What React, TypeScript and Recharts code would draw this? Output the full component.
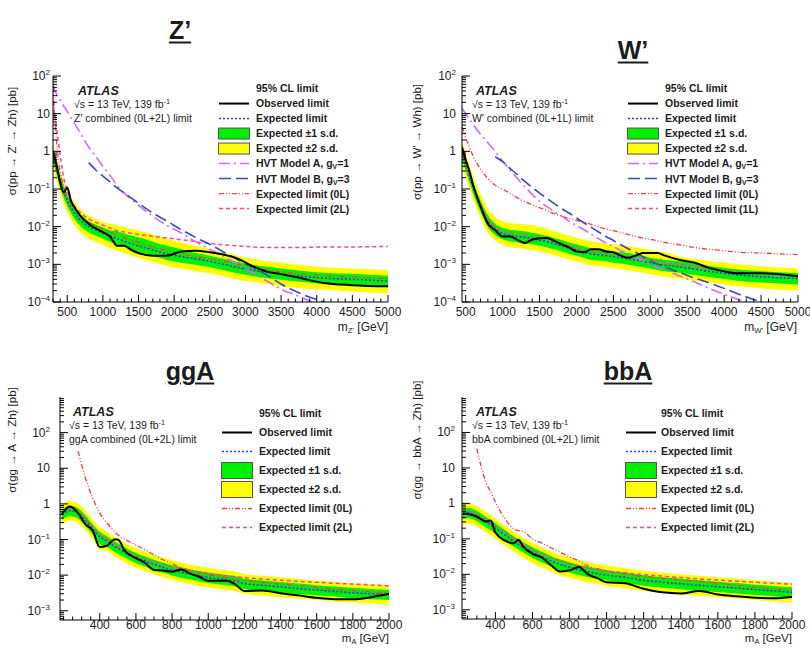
import React from 'react';
import { ComposedChart, Area, Line, XAxis, YAxis } from 'recharts';

const FONT = "'Liberation Sans', Arial, Helvetica, sans-serif";
const INK = '#1c1c1c';

// Z' -> Zh
const zpMass = [300, 350, 400, 450, 500, 550, 600, 700, 800, 900, 1000, 1100, 1200, 1300, 1400, 1500, 1700, 1900, 2100, 2300, 2500, 2700, 2900, 3100, 3300, 3500, 3800, 4100, 4500, 5000];
const zpObs = [1.0, 0.45, 0.15, 0.08, 0.11, 0.05, 0.033, 0.018, 0.012, 0.009, 0.0072, 0.0055, 0.0031, 0.0031, 0.0024, 0.002, 0.0017, 0.0017, 0.0022, 0.0023, 0.0021, 0.0018, 0.0014, 0.0009, 0.00064, 0.00055, 0.00042, 0.00032, 0.00028, 0.00026];
const zpExp = [0.75, 0.35, 0.16, 0.085, 0.05, 0.033, 0.023, 0.014, 0.01, 0.0082, 0.0068, 0.0057, 0.0048, 0.0041, 0.0035, 0.0031, 0.0024, 0.0019, 0.0016, 0.0014, 0.0012, 0.001, 0.00082, 0.0007, 0.00062, 0.00055, 0.00048, 0.00043, 0.0004, 0.00036];
const zpUp1 = [1.05, 0.49, 0.22, 0.12, 0.07, 0.046, 0.032, 0.02, 0.014, 0.0115, 0.0095, 0.008, 0.0075, 0.0066, 0.0058, 0.0052, 0.004, 0.0031, 0.0025, 0.002, 0.0017, 0.0014, 0.00115, 0.00098, 0.00087, 0.00077, 0.00067, 0.0006, 0.00056, 0.0005];
const zpDn1 = [0.52, 0.245, 0.11, 0.06, 0.035, 0.023, 0.016, 0.0098, 0.007, 0.0057, 0.0048, 0.004, 0.0034, 0.0029, 0.0025, 0.0022, 0.0017, 0.0013, 0.0011, 0.00098, 0.00084, 0.0007, 0.00057, 0.00049, 0.00043, 0.00039, 0.00034, 0.0003, 0.00028, 0.00025];
const zpUp2 = [1.45, 0.68, 0.31, 0.165, 0.098, 0.064, 0.045, 0.027, 0.0195, 0.016, 0.0133, 0.012, 0.011, 0.0098, 0.0088, 0.008, 0.0062, 0.0048, 0.0038, 0.0031, 0.0025, 0.0021, 0.0017, 0.0014, 0.0012, 0.0011, 0.00094, 0.00084, 0.00078, 0.0007];
const zpDn2 = [0.36, 0.17, 0.077, 0.041, 0.024, 0.016, 0.011, 0.0067, 0.0048, 0.0039, 0.0033, 0.0027, 0.0023, 0.002, 0.0017, 0.0015, 0.00115, 0.0009, 0.00077, 0.00067, 0.00058, 0.00048, 0.00039, 0.00034, 0.0003, 0.00026, 0.00023, 0.00021, 0.00019, 0.00017];
const zpExp0L = [50, 1.8, 0.28, 0.12, 0.065, 0.042, 0.03, 0.018, 0.013, 0.0105, 0.0087, 0.0072, 0.006, 0.0051, 0.0044, 0.0038, 0.0029, 0.0023, 0.0019, 0.0016, 0.0014, 0.0012, 0.001, 0.00082, 0.00072, 0.00063, 0.00055, 0.0005, 0.00046, 0.00042];
const zpExp2L = [20, 4, 0.8, 0.2, 0.09, 0.05, 0.035, 0.022, 0.016, 0.013, 0.011, 0.0092, 0.0078, 0.0072, 0.0066, 0.0062, 0.0056, 0.005, 0.0045, 0.004, 0.0036, 0.0033, 0.0031, 0.0029, 0.0028, 0.0028, 0.0028, 0.0029, 0.0029, 0.003];
const zpHvtA = [55, 33, 23, 16, 11.5, 8, 5.6, 2.7, 1.3, 0.72, 0.4, 0.23, 0.123, 0.078, 0.053, 0.037, 0.019, 0.0107, 0.0068, 0.004, 0.0025, 0.0016, 0.001, 0.00059, 0.00036, 0.00022, 0.00013, 0.00007, null, null];
const zpHvtB = [null, null, null, null, null, null, null, null, 0.5, 0.32, 0.22, 0.155, 0.107, 0.078, 0.057, 0.042, 0.023, 0.014, 0.0083, 0.0052, 0.0034, 0.0021, 0.0013, 0.00083, 0.00052, 0.0003, 0.00016, 0.0001, 0.00005, null];

// W' -> Wh
const wpMass = [450, 500, 550, 600, 700, 800, 900, 1000, 1100, 1200, 1300, 1400, 1500, 1600, 1700, 1800, 1900, 2000, 2100, 2200, 2300, 2400, 2500, 2600, 2700, 2800, 2900, 3000, 3100, 3200, 3400, 3600, 3800, 4000, 4200, 4500, 5000];
const wpObs = [1.3, 0.6, 0.3, 0.13, 0.035, 0.012, 0.008, 0.0055, 0.0055, 0.0045, 0.0037, 0.0045, 0.0049, 0.005, 0.0042, 0.0034, 0.0028, 0.0022, 0.0021, 0.0025, 0.0025, 0.0022, 0.0021, 0.0017, 0.0015, 0.0017, 0.002, 0.002, 0.002, 0.0017, 0.0013, 0.0011, 0.0008, 0.00065, 0.00058, 0.00058, 0.00048];
const wpExp = [0.8, 0.45, 0.22, 0.11, 0.035, 0.014, 0.0085, 0.0065, 0.0058, 0.0055, 0.0052, 0.0048, 0.0044, 0.004, 0.0035, 0.0031, 0.0027, 0.0024, 0.0021, 0.0019, 0.0018, 0.0017, 0.0016, 0.0015, 0.0014, 0.0013, 0.0012, 0.0011, 0.001, 0.00095, 0.00085, 0.00075, 0.00065, 0.00058, 0.00052, 0.00047, 0.00042];
const wpUp1 = [1.15, 0.64, 0.31, 0.155, 0.05, 0.02, 0.012, 0.0093, 0.0083, 0.0079, 0.0075, 0.0069, 0.0063, 0.0057, 0.005, 0.0044, 0.0038, 0.0034, 0.003, 0.0027, 0.0025, 0.0024, 0.0022, 0.0021, 0.002, 0.0018, 0.0017, 0.0015, 0.0014, 0.0013, 0.0012, 0.00105, 0.0009, 0.00081, 0.00073, 0.00066, 0.00059];
const wpDn1 = [0.56, 0.31, 0.15, 0.077, 0.025, 0.0098, 0.006, 0.0046, 0.0041, 0.0038, 0.0036, 0.0034, 0.0031, 0.0028, 0.0025, 0.0022, 0.0019, 0.0017, 0.0015, 0.0013, 0.00126, 0.0012, 0.0011, 0.00105, 0.00098, 0.00091, 0.00084, 0.00077, 0.0007, 0.00066, 0.0006, 0.00052, 0.00046, 0.00041, 0.00036, 0.00033, 0.00029];
const wpUp2 = [1.7, 0.95, 0.46, 0.23, 0.075, 0.03, 0.018, 0.014, 0.0125, 0.012, 0.0115, 0.011, 0.01, 0.0088, 0.0075, 0.0066, 0.0058, 0.0051, 0.0045, 0.0041, 0.0038, 0.0036, 0.0034, 0.0032, 0.003, 0.0028, 0.0026, 0.0024, 0.0022, 0.0021, 0.0016, 0.0014, 0.0012, 0.0011, 0.001, 0.00088, 0.00078];
const wpDn2 = [0.4, 0.22, 0.11, 0.055, 0.0175, 0.007, 0.0043, 0.0033, 0.0029, 0.0027, 0.0026, 0.0024, 0.0022, 0.002, 0.00175, 0.00155, 0.00135, 0.0012, 0.00105, 0.00095, 0.0009, 0.00085, 0.0008, 0.00075, 0.0007, 0.00065, 0.0006, 0.00055, 0.0005, 0.00047, 0.00042, 0.00037, 0.00033, 0.00029, 0.00026, 0.00023, 0.0002];
const wpExp0L = [4.5, 2.3, 1.3, 0.75, 0.34, 0.19, 0.125, 0.098, 0.078, 0.058, 0.046, 0.038, 0.032, 0.027, 0.022, 0.019, 0.0165, 0.0148, 0.013, 0.0115, 0.0098, 0.0087, 0.0078, 0.007, 0.0062, 0.0055, 0.005, 0.0046, 0.0042, 0.0038, 0.0033, 0.0028, 0.0025, 0.0023, 0.0021, 0.002, 0.0018];
const wpExp1L = [0.9, 0.5, 0.25, 0.125, 0.04, 0.016, 0.0098, 0.0075, 0.0067, 0.0063, 0.006, 0.0055, 0.0051, 0.0046, 0.004, 0.0036, 0.0031, 0.0028, 0.0024, 0.0022, 0.0021, 0.002, 0.0019, 0.0017, 0.0016, 0.0015, 0.0014, 0.0013, 0.0012, 0.0011, 0.001, 0.00088, 0.00077, 0.00068, 0.00062, 0.00056, 0.0005];
const wpHvtA = [14, 9.9, 7.2, 5.2, 2.85, 1.7, 0.99, 0.55, 0.32, 0.19, 0.115, 0.072, 0.047, 0.034, 0.025, 0.019, 0.014, 0.0107, 0.0083, 0.0063, 0.0048, 0.0037, 0.003, 0.0023, 0.0019, 0.00155, 0.00125, 0.001, 0.00083, 0.0007, 0.00049, 0.00034, 0.00023, 0.00016, 0.000115, 0.00007, null];
const wpHvtB = [null, null, null, null, null, null, 0.72, 0.53, 0.355, 0.24, 0.16, 0.11, 0.078, 0.056, 0.041, 0.03, 0.023, 0.017, 0.0127, 0.0096, 0.0072, 0.0055, 0.0043, 0.0033, 0.0026, 0.0021, 0.0016, 0.00126, 0.001, 0.00085, 0.0006, 0.00043, 0.00032, 0.00023, 0.00016, 0.0001, 0.00004];

// gg -> A -> Zh
const ggMass = [190, 235, 280, 320, 360, 400, 440, 480, 500, 540, 600, 650, 700, 750, 800, 850, 900, 950, 1000, 1100, 1150, 1200, 1300, 1400, 1500, 1600, 1700, 1800, 1900, 2000];
const ggObs = [0.52, 0.84, 0.55, 0.27, 0.18, 0.062, 0.067, 0.1, 0.1, 0.047, 0.03, 0.022, 0.014, 0.0135, 0.0125, 0.0145, 0.011, 0.009, 0.0069, 0.007, 0.0055, 0.0036, 0.0037, 0.0031, 0.0027, 0.0023, 0.0021, 0.0021, 0.0024, 0.003];
const ggExp = [0.5, 0.65, 0.55, 0.35, 0.2, 0.12, 0.09, 0.065, 0.057, 0.044, 0.031, 0.025, 0.02, 0.0165, 0.014, 0.0122, 0.0107, 0.0095, 0.0086, 0.0074, 0.0068, 0.0058, 0.0052, 0.0047, 0.0042, 0.0038, 0.0035, 0.0032, 0.003, 0.0028];
const ggUp1 = [0.68, 0.89, 0.75, 0.48, 0.27, 0.165, 0.123, 0.089, 0.078, 0.06, 0.042, 0.034, 0.027, 0.0226, 0.019, 0.0167, 0.0147, 0.013, 0.0118, 0.0101, 0.0093, 0.0079, 0.0071, 0.0064, 0.0058, 0.0052, 0.0048, 0.0044, 0.0041, 0.0038];
const ggDn1 = [0.35, 0.455, 0.385, 0.245, 0.14, 0.075, 0.063, 0.0455, 0.04, 0.031, 0.0217, 0.0175, 0.014, 0.0116, 0.0098, 0.0085, 0.0075, 0.0067, 0.006, 0.0052, 0.0048, 0.0041, 0.0036, 0.0033, 0.0029, 0.0027, 0.0025, 0.0022, 0.0021, 0.002];
const ggUp2 = [0.93, 1.2, 1.02, 0.65, 0.37, 0.22, 0.166, 0.12, 0.105, 0.081, 0.057, 0.046, 0.037, 0.0305, 0.026, 0.0226, 0.0198, 0.0176, 0.0159, 0.0137, 0.0126, 0.0107, 0.0096, 0.0087, 0.0078, 0.007, 0.0065, 0.0059, 0.0056, 0.0052];
const ggDn2 = [0.26, 0.34, 0.29, 0.18, 0.104, 0.052, 0.047, 0.034, 0.03, 0.023, 0.016, 0.013, 0.0104, 0.0086, 0.0073, 0.0063, 0.0056, 0.0049, 0.0045, 0.0038, 0.0035, 0.003, 0.0027, 0.0024, 0.0022, 0.002, 0.0018, 0.0017, 0.0016, 0.0015];
const ggExp0L = [null, null, 30, 5.5, 1.5, 0.55, 0.29, 0.17, 0.135, 0.1, 0.07, 0.052, 0.037, 0.027, 0.021, 0.016, 0.0135, 0.0113, 0.0102, 0.0084, 0.0075, 0.0071, 0.0062, 0.0056, 0.005, 0.0045, 0.004, 0.0037, 0.0034, 0.003];
const ggExp2L = [0.6, 0.75, 0.62, 0.4, 0.23, 0.135, 0.1, 0.073, 0.064, 0.05, 0.036, 0.029, 0.024, 0.02, 0.017, 0.015, 0.0134, 0.0121, 0.011, 0.0096, 0.009, 0.0085, 0.0078, 0.0072, 0.0067, 0.0063, 0.0059, 0.0056, 0.0053, 0.005];

// bb -> A -> Zh
const bbMass = [225, 250, 300, 350, 375, 400, 450, 500, 525, 550, 600, 650, 700, 750, 800, 850, 900, 950, 1000, 1100, 1200, 1300, 1400, 1500, 1600, 1700, 1800, 1900, 2000];
const bbObs = [0.52, 0.5, 0.42, 0.31, 0.33, 0.15, 0.09, 0.075, 0.095, 0.06, 0.038, 0.03, 0.018, 0.012, 0.013, 0.016, 0.01, 0.0078, 0.006, 0.0056, 0.0039, 0.0031, 0.0029, 0.0034, 0.0027, 0.0024, 0.0022, 0.0021, 0.0023];
const bbExp = [0.5, 0.55, 0.45, 0.3, 0.25, 0.2, 0.13, 0.085, 0.07, 0.058, 0.042, 0.031, 0.024, 0.019, 0.016, 0.0135, 0.0118, 0.0105, 0.0095, 0.0082, 0.0068, 0.006, 0.0054, 0.0049, 0.0045, 0.0041, 0.0037, 0.0034, 0.0031];
const bbUp1 = [0.69, 0.76, 0.62, 0.41, 0.345, 0.275, 0.18, 0.117, 0.097, 0.08, 0.058, 0.043, 0.033, 0.026, 0.022, 0.0186, 0.0163, 0.0145, 0.0131, 0.0113, 0.0094, 0.0083, 0.0075, 0.0068, 0.0062, 0.0057, 0.0051, 0.0047, 0.0043];
const bbDn1 = [0.35, 0.385, 0.315, 0.21, 0.175, 0.14, 0.091, 0.06, 0.049, 0.041, 0.029, 0.022, 0.017, 0.0133, 0.0112, 0.0095, 0.0083, 0.0074, 0.0067, 0.0057, 0.0048, 0.0042, 0.0038, 0.0034, 0.0032, 0.0029, 0.0026, 0.0024, 0.0022];
const bbUp2 = [0.95, 1.0, 0.85, 0.56, 0.47, 0.37, 0.24, 0.16, 0.13, 0.108, 0.078, 0.058, 0.045, 0.035, 0.03, 0.025, 0.022, 0.0195, 0.0176, 0.0152, 0.0126, 0.0111, 0.01, 0.0091, 0.0083, 0.0076, 0.0068, 0.0063, 0.0057];
const bbDn2 = [0.25, 0.275, 0.225, 0.15, 0.125, 0.1, 0.065, 0.043, 0.035, 0.029, 0.021, 0.0155, 0.012, 0.0095, 0.008, 0.0068, 0.0059, 0.0053, 0.0048, 0.0041, 0.0034, 0.003, 0.0027, 0.0025, 0.0023, 0.0021, 0.0019, 0.0017, 0.0016];
const bbExp0L = [null, null, 35, 3.8, 2.1, 1.1, 0.38, 0.19, 0.17, 0.16, 0.1, 0.076, 0.056, 0.042, 0.031, 0.024, 0.017, 0.0145, 0.0123, 0.0102, 0.0087, 0.0078, 0.007, 0.0063, 0.0057, 0.0049, 0.0043, 0.0039, 0.0035];
const bbExp2L = [0.55, 0.6, 0.5, 0.34, 0.28, 0.22, 0.15, 0.1, 0.083, 0.07, 0.05, 0.038, 0.03, 0.024, 0.02, 0.017, 0.015, 0.0135, 0.0125, 0.011, 0.0098, 0.0089, 0.0081, 0.0074, 0.0069, 0.0064, 0.006, 0.0056, 0.0053];

// tick labels
const heavyMajor = [500, 1000, 1500, 2000, 2500, 3000, 3500, 4000, 4500, 5000];
const lightMajor = [400, 600, 800, 1000, 1200, 1400, 1600, 1800, 2000];
const heavyDecades = [1e-4, 1e-3, 1e-2, 1e-1, 1, 10, 100];
const lightDecades = [1e-3, 1e-2, 1e-1, 1, 10, 100];

const C = {
  yellow: '#ffff00',
  green: '#00f000',
  obs: '#000000',
  exp: '#2a35ff',
  hvtA: '#cf6cf6',
  hvtB: '#3a49c9',
  l0: '#ff3b3b',
  l2: '#ff3fa0',
};

type V = number | null;
type SeriesSet = {
  mass: number[]; obs: number[]; exp: number[];
  up1: number[]; dn1: number[]; up2: number[]; dn2: number[];
  l0: V[]; l2: V[]; hvtA?: V[]; hvtB?: V[];
};

function makeRows(s: SeriesSet) {
  return s.mass.map((m, i) => ({
    m,
    obs: s.obs[i],
    exp: s.exp[i],
    band1: [s.dn1[i], s.up1[i]],
    band2: [s.dn2[i], s.up2[i]],
    l0: s.l0[i],
    l2: s.l2[i],
    hvtA: s.hvtA ? s.hvtA[i] : null,
    hvtB: s.hvtB ? s.hvtB[i] : null,
  }));
}

function linearMinor(lo: number, hi: number, step: number, major: number[]) {
  const out: number[] = [];
  for (let v = Math.ceil(lo / step) * step; v <= hi; v += step) if (!major.includes(v)) out.push(v);
  return out;
}

function logMinor(lo: number, hi: number) {
  const out: number[] = [];
  for (let e = -5; e <= 3; e++) {
    for (let k = 2; k <= 9; k++) {
      const v = k * Math.pow(10, e);
      if (v >= lo && v <= hi) out.push(v);
    }
  }
  return out;
}

function decadeLabel(v: number, x: number, y: number) {
  const e = Math.round(Math.log10(v));
  const base = { x, y, textAnchor: 'end' as const, fontFamily: FONT, fontSize: 12, fill: INK };
  if (e === 0) return <text {...base}>1</text>;
  if (e === 1) return <text {...base}>10</text>;
  return (
    <text {...base}>
      10<tspan dy={-5} fontSize={8}>{e < 0 ? `\u2212${-e}` : e}</tspan>
    </text>
  );
}

type Box = { left: number; top: number; w: number; h: number };
type Plot = { l: number; t: number; r: number; b: number };

type PanelProps = {
  s: SeriesSet;
  box: Box;
  plot: Plot;
  xDomain: [number, number];
  xMajor: number[];
  xStep: number;
  yDomain: [number, number];
  yDecades: number[];
  yLabelRight: number;
  xLabelY: number;
};

function Panel({ s, box, plot, xDomain, xMajor, xStep, yDomain, yDecades, yLabelRight, xLabelY }: PanelProps) {
  const pl = plot.l - box.left;
  const pr = plot.r - box.left;
  const pt = plot.t - box.top;
  const pb = plot.b - box.top;
  const data = makeRows(s);
  const xTicks = [...xMajor, ...linearMinor(xDomain[0], xDomain[1], xStep, xMajor)].sort((a, b) => a - b);
  const yTicks = [...yDecades, ...logMinor(yDomain[0], yDomain[1])].sort((a, b) => a - b);
  const isMajorY = (v: number) => yDecades.some((d) => Math.abs(d - v) < d * 1e-6);
  const lab = yLabelRight - box.left;
  const xl = xLabelY - box.top + 4;

  const lineProps = { type: 'monotone' as const, dot: false, activeDot: false, isAnimationActive: false, xAxisId: 'b', yAxisId: 'l' };

  return (
    <div style={{ position: 'absolute', left: box.left, top: box.top }}>
      <ComposedChart width={box.w} height={box.h} data={data} margin={{ top: pt, right: box.w - pr, bottom: 0, left: 0 }}>
        <XAxis
          xAxisId="b" dataKey="m" type="number" domain={xDomain} allowDataOverflow ticks={xTicks} interval={0}
          height={box.h - pb} tickLine={false} axisLine={{ stroke: '#000' }}
          tick={(t: any) => {
            const major = xMajor.includes(t.payload.value);
            return (
              <g>
                <line x1={t.x} x2={t.x} y1={pb} y2={pb - (major ? 7 : 3.5)} stroke="#000" />
                {major && (
                  <text x={t.x} y={xl} textAnchor="middle" fontFamily={FONT} fontSize={12} fill={INK}>{t.payload.value}</text>
                )}
              </g>
            );
          }}
        />
        <XAxis
          xAxisId="t" orientation="top" dataKey="m" type="number" domain={xDomain} allowDataOverflow ticks={xTicks} interval={0}
          height={0} tickLine={false} axisLine={{ stroke: '#000' }}
          tick={(t: any) => {
            const major = xMajor.includes(t.payload.value);
            return <line x1={t.x} x2={t.x} y1={pt} y2={pt + (major ? 7 : 3.5)} stroke="#000" />;
          }}
        />
        <YAxis
          yAxisId="l" type="number" scale="log" domain={yDomain} allowDataOverflow ticks={yTicks} interval={0}
          width={pl} tickLine={false} axisLine={{ stroke: '#000' }}
          tick={(t: any) => {
            const major = isMajorY(t.payload.value);
            return (
              <g>
                <line x1={pl} x2={pl + (major ? 8 : 4)} y1={t.y} y2={t.y} stroke="#000" />
                {major && decadeLabel(t.payload.value, lab, t.y + 4)}
              </g>
            );
          }}
        />
        <YAxis
          yAxisId="r" orientation="right" type="number" scale="log" domain={yDomain} allowDataOverflow ticks={yTicks} interval={0}
          width={0} tickLine={false} axisLine={{ stroke: '#000' }}
          tick={(t: any) => {
            const major = isMajorY(t.payload.value);
            return <line x1={pr} x2={pr - (major ? 8 : 4)} y1={t.y} y2={t.y} stroke="#000" />;
          }}
        />
        <Area xAxisId="b" yAxisId="l" type="monotone" dataKey="band2" fill={C.yellow} fillOpacity={1} stroke="none" isAnimationActive={false} activeDot={false} />
        <Area xAxisId="b" yAxisId="l" type="monotone" dataKey="band1" fill={C.green} fillOpacity={1} stroke="none" isAnimationActive={false} activeDot={false} />
        <Line {...lineProps} dataKey="exp" stroke={C.exp} strokeWidth={1.6} strokeDasharray="2 2" />
        <Line {...lineProps} dataKey="l0" stroke={C.l0} strokeWidth={1.3} strokeDasharray="5 2 1 2 1 2" />
        <Line {...lineProps} dataKey="l2" stroke={C.l2} strokeWidth={1.5} strokeDasharray="4 3" />
        {s.hvtA && <Line {...lineProps} dataKey="hvtA" stroke={C.hvtA} strokeWidth={1.6} strokeDasharray="11 4 2 4" />}
        {s.hvtB && <Line {...lineProps} dataKey="hvtB" stroke={C.hvtB} strokeWidth={1.6} strokeDasharray="12 5" />}
        <Line {...lineProps} dataKey="obs" stroke={C.obs} strokeWidth={2} />
        <Line type="monotone" dataKey="exp" xAxisId="t" yAxisId="r" stroke="none" dot={false} activeDot={false} isAnimationActive={false} />
      </ComposedChart>
    </div>
  );
}

type Sw = { t: 'none' } | { t: 'line'; c: string; w: number; d?: string } | { t: 'box'; c: string };
type LegendRow = { label: React.ReactNode; sw: Sw };

function LegendBlock({ x, y, rowH, swW, textX, boxH, rows }: { x: number; y: number; rowH: number; swW: number; textX: number; boxH: number; rows: LegendRow[] }) {
  return (
    <div style={{ position: 'absolute', left: x, top: y - rowH / 2, fontFamily: FONT, fontWeight: 'bold', fontSize: 10.5, color: INK }}>
      {rows.map((r, i) => (
        <div key={i} style={{ position: 'absolute', left: 0, top: i * rowH, height: rowH, display: 'flex', alignItems: 'center', whiteSpace: 'nowrap' }}>
          <svg width={swW} height={rowH} style={{ display: 'block', flex: 'none' }}>
            {r.sw.t === 'line' && (
              <line x1={1} x2={swW - 1} y1={rowH / 2} y2={rowH / 2} stroke={r.sw.c} strokeWidth={r.sw.w} strokeDasharray={r.sw.d} />
            )}
            {r.sw.t === 'box' && (
              <rect x={0.5} y={(rowH - boxH) / 2} width={swW - 1} height={boxH} fill={r.sw.c} stroke="#555" strokeWidth={1} />
            )}
          </svg>
          <span style={{ marginLeft: textX - swW }}>{r.label}</span>
        </div>
      ))}
    </div>
  );
}

function Txt({ x, y, size = 10.5, bold, italic, align = 'left', underline, children }: { x: number; y: number; size?: number; bold?: boolean; italic?: boolean; align?: 'left' | 'right' | 'center'; underline?: boolean; children: React.ReactNode }) {
  const tx = align === 'left' ? '0' : align === 'right' ? '-100%' : '-50%';
  return (
    <div
      style={{
        position: 'absolute', left: x, top: y, transform: `translate(${tx}, -50%)`, fontFamily: FONT, fontSize: size,
        fontWeight: bold ? 'bold' : 'normal', fontStyle: italic ? 'italic' : 'normal', color: INK, whiteSpace: 'nowrap', lineHeight: 1,
        textDecoration: underline ? 'underline' : 'none', textDecorationThickness: underline ? 2 : undefined, textUnderlineOffset: underline ? 3 : undefined,
      }}
    >
      {children}
    </div>
  );
}

function YTitle({ x, y, children }: { x: number; y: number; children: React.ReactNode }) {
  return (
    <div style={{ position: 'absolute', left: x, top: y, transform: 'translate(-50%, -50%) rotate(-90deg)', fontFamily: FONT, fontSize: 11.5, color: INK, whiteSpace: 'nowrap', lineHeight: 1 }}>
      {children}
    </div>
  );
}

const sub = (s: string) => <sub style={{ fontSize: '0.65em', verticalAlign: '-0.25em', lineHeight: 0 }}>{s}</sub>;
const sup = (s: string) => <sup style={{ fontSize: '0.7em', verticalAlign: '0.5em', lineHeight: 0 }}>{s}</sup>;

function baseRows(last: string, hvt: boolean): LegendRow[] {
  const rows: LegendRow[] = [
    { label: '95% CL limit', sw: { t: 'none' } },
    { label: 'Observed limit', sw: { t: 'line', c: C.obs, w: 2 } },
    { label: 'Expected limit', sw: { t: 'line', c: C.exp, w: 1.6, d: '2 2' } },
    { label: 'Expected \u00b11 s.d.', sw: { t: 'box', c: C.green } },
    { label: 'Expected \u00b12 s.d.', sw: { t: 'box', c: C.yellow } },
  ];
  if (hvt) {
    rows.push({ label: <>HVT Model A, g{sub('V')}=1</>, sw: { t: 'line', c: C.hvtA, w: 1.6, d: '11 4 2 4' } });
    rows.push({ label: <>HVT Model B, g{sub('V')}=3</>, sw: { t: 'line', c: C.hvtB, w: 1.6, d: '12 5' } });
  }
  rows.push({ label: 'Expected limit (0L)', sw: { t: 'line', c: C.l0, w: 1.3, d: '5 2 1 2 1 2' } });
  rows.push({ label: `Expected limit (${last})`, sw: { t: 'line', c: C.l2, w: 1.5, d: '4 3' } });
  return rows;
}

function AtlasBlock({ x, y, line2 }: { x: number; y: number; line2: string }) {
  return (
    <>
      <Txt x={x + 4} y={y} size={12.5} bold italic>ATLAS</Txt>
      <Txt x={x} y={y + 12.5}>{'\u221as = 13 TeV, 139 fb'}{sup('-1')}</Txt>
      <Txt x={x} y={y + 27}>{line2}</Txt>
    </>
  );
}

export default function App() {
  const zp: SeriesSet = { mass: zpMass, obs: zpObs, exp: zpExp, up1: zpUp1, dn1: zpDn1, up2: zpUp2, dn2: zpDn2, l0: zpExp0L, l2: zpExp2L, hvtA: zpHvtA, hvtB: zpHvtB };
  const wp: SeriesSet = { mass: wpMass, obs: wpObs, exp: wpExp, up1: wpUp1, dn1: wpDn1, up2: wpUp2, dn2: wpDn2, l0: wpExp0L, l2: wpExp1L, hvtA: wpHvtA, hvtB: wpHvtB };
  const gg: SeriesSet = { mass: ggMass, obs: ggObs, exp: ggExp, up1: ggUp1, dn1: ggDn1, up2: ggUp2, dn2: ggDn2, l0: ggExp0L, l2: ggExp2L };
  const bb: SeriesSet = { mass: bbMass, obs: bbObs, exp: bbExp, up1: bbUp1, dn1: bbDn1, up2: bbUp2, dn2: bbDn2, l0: bbExp0L, l2: bbExp2L };

  return (
    <div style={{ position: 'absolute', left: 0, top: 0, width: 810, height: 648, background: '#fff', overflow: 'hidden' }}>
      <Txt x={180} y={30} size={25} bold align="center" underline>Z’</Txt>
      <Txt x={633} y={50} size={25} bold align="center" underline>W’</Txt>
      <Txt x={190} y={371} size={25} bold align="center" underline>ggA</Txt>
      <Txt x={628} y={371} size={25} bold align="center" underline>bbA</Txt>

      <Panel s={zp} box={{ left: 0, top: 60, w: 405, h: 280 }} plot={{ l: 53, t: 76, r: 388, b: 302 }}
        xDomain={[300, 5000]} xMajor={heavyMajor} xStep={100} yDomain={[1e-4, 100]} yDecades={heavyDecades} yLabelRight={50} xLabelY={312} />
      <Panel s={wp} box={{ left: 405, top: 60, w: 405, h: 280 }} plot={{ l: 462, t: 76, r: 798, b: 302 }}
        xDomain={[450, 5000]} xMajor={heavyMajor} xStep={100} yDomain={[1e-4, 100]} yDecades={heavyDecades} yLabelRight={456} xLabelY={312} />
      <Panel s={gg} box={{ left: 0, top: 380, w: 405, h: 268 }} plot={{ l: 60, t: 397, r: 389, b: 620 }}
        xDomain={[180, 2000]} xMajor={lightMajor} xStep={50} yDomain={[5.5e-4, 1000]} yDecades={lightDecades} yLabelRight={50} xLabelY={625} />
      <Panel s={bb} box={{ left: 405, top: 380, w: 405, h: 268 }} plot={{ l: 462, t: 397, r: 792, b: 619 }}
        xDomain={[220, 2000]} xMajor={lightMajor} xStep={50} yDomain={[5.5e-4, 1000]} yDecades={lightDecades} yLabelRight={455} xLabelY={625} />

      <YTitle x={13} y={141}>σ(pp → Z' → Zh) [pb]</YTitle>
      <YTitle x={418} y={142}>σ(pp → W' → Wh) [pb]</YTitle>
      <YTitle x={13} y={440}>σ(gg → A → Zh) [pb]</YTitle>
      <YTitle x={418} y={440}>σ(gg → bbA → Zh) [pb]</YTitle>

      <Txt x={388} y={327} size={12} align="right">m{sub("Z'")} [GeV]</Txt>
      <Txt x={797} y={327} size={12} align="right">m{sub("W'")} [GeV]</Txt>
      <Txt x={389} y={639} size={11.5} align="right">m{sub('A')} [GeV]</Txt>
      <Txt x={792} y={639} size={11.5} align="right">m{sub('A')} [GeV]</Txt>

      <AtlasBlock x={74} y={91} line2="Z' combined (0L+2L) limit" />
      <AtlasBlock x={472} y={91} line2="W' combined (0L+1L) limit" />
      <AtlasBlock x={69} y={412} line2="ggA combined (0L+2L) limit" />
      <AtlasBlock x={472} y={412} line2="bbA combined (0L+2L) limit" />

      <LegendBlock x={218} y={88} rowH={15.1} swW={32} textX={38} boxH={11} rows={baseRows('2L', true)} />
      <LegendBlock x={627} y={88} rowH={15.1} swW={32} textX={38} boxH={11} rows={baseRows('1L', true)} />
      <LegendBlock x={221} y={413} rowH={19} swW={32} textX={38} boxH={16} rows={baseRows('2L', false)} />
      <LegendBlock x={625} y={413} rowH={19} swW={32} textX={36} boxH={16} rows={baseRows('2L', false)} />
    </div>
  );
}
